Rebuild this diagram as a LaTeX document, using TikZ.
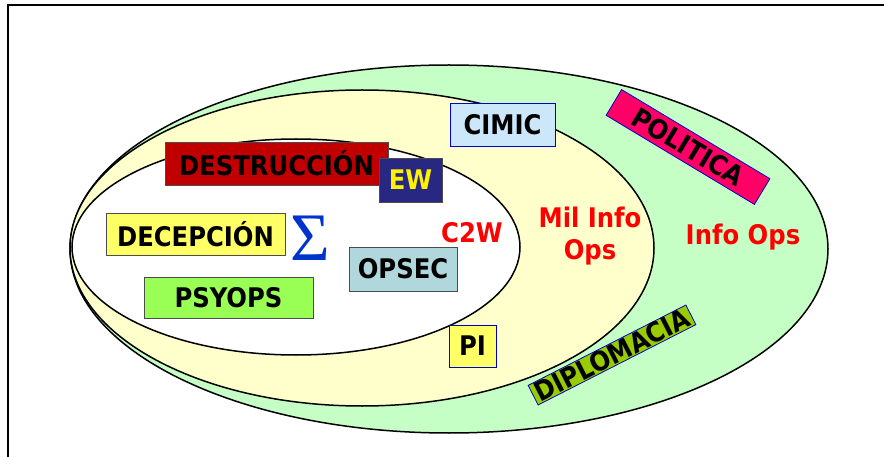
\documentclass[tikz,border=0pt]{standalone}
\usepackage{fontspec}
\setmainfont{DejaVu Sans Condensed}
\newfontfamily\sigfont{Liberation Serif}
\usepackage{tikz}
\usetikzlibrary{calc}

\definecolor{infoops}{RGB}{198,255,198}
\definecolor{milops}{RGB}{255,255,204}
\definecolor{destred}{RGB}{192,0,0}
\definecolor{ewblue}{RGB}{40,40,130}
\definecolor{boxyellow}{RGB}{255,255,102}
\definecolor{psygreen}{RGB}{153,255,85}
\definecolor{opsecblue}{RGB}{176,216,220}
\definecolor{cimicblue}{RGB}{204,230,250}
\definecolor{polpink}{RGB}{255,0,102}
\definecolor{diplogreen}{RGB}{153,204,0}
\definecolor{sigblue}{RGB}{0,51,204}

\tikzset{
  opsbox/.style={draw=black!70, line width=0.8pt, inner sep=0pt, font=\fontsize{27}{29}\selectfont\bfseries},
  bluebox/.style={opsbox, draw=blue!80!black},
  redlabel/.style={text=red, font=\fontsize{27}{32}\selectfont\bfseries, align=center},
  ring/.style={draw=black, line width=1.5pt}
}

\begin{document}
\begin{tikzpicture}[x=1pt,y=-1pt]
    \useasboundingbox (0,0) rectangle (884,457);

    % draw frame
    \draw[line width=2pt] (8,457) -- (8,5) -- (884,5);

    % draw nested ellipses
    \draw[ring, fill=infoops] (449,249) ellipse [x radius=379, y radius=184];
    \draw[ring, fill=milops] (362,248) ellipse [x radius=292, y radius=158];
    \draw[ring, fill=white] (296,247) ellipse [x radius=224, y radius=108];

    % draw boxes
    \node[opsbox, fill=destred, minimum width=223, minimum height=43] (dest) at (276.5,163.5) {DESTRUCCIÓN};
    \node[opsbox, fill=ewblue, text=yellow, minimum width=63, minimum height=44] (ew) at (410.5,180) {EW};
    \node[opsbox, fill=boxyellow, minimum width=179, minimum height=42] (decep) at (195.5,234) {DECEPCIÓN};
    \node[opsbox, fill=psygreen, minimum width=169, minimum height=41] (psyops) at (228.5,297.5) {PSYOPS};
    \node[opsbox, fill=opsecblue, minimum width=108, minimum height=44] (opsec) at (403,269) {OPSEC};
    \node[bluebox, fill=cimicblue, minimum width=105, minimum height=43] (cimic) at (502.5,124.5) {CIMIC};
    \node[bluebox, fill=boxyellow, minimum width=47, minimum height=42] (pi) at (472.5,346) {PI};
    \node[bluebox, fill=polpink, minimum width=173, minimum height=30, rotate=-31] (pol) at (688,147) {POLITICA};
    \node[bluebox, fill=diplogreen, minimum width=177, minimum height=22, rotate=27] (diplo) at (612,355) {DIPLOMACIA};

    % draw sigma
    \node[text=sigblue, font=\sigfont\fontsize{68}{68}\selectfont] (sigma) at (310,238) {Σ};

    % draw labels
    \node[redlabel] (c2w) at (472,233) {C2W};
    \node[redlabel] (milinfo) at (590,236) {Mil Info\\Ops};
    \node[redlabel] (infoops) at (743,237) {Info Ops};

\end{tikzpicture}
\end{document}
